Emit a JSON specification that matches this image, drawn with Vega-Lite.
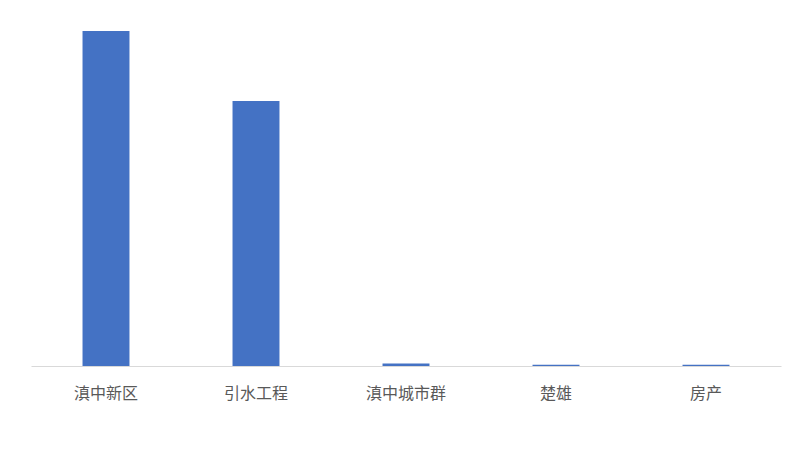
{
  "$schema": "https://vega.github.io/schema/vega-lite/v6.json",
  "autosize": {"type": "none"},
  "padding": {"left": 31, "top": 31, "right": 11, "bottom": 99},
  "width": 750,
  "height": 335,
  "background": "white",
  "config": {"view": {"stroke": null}},
  "data": {
    "values": [
      {"name": "滇中新区", "value": 335},
      {"name": "引水工程", "value": 265},
      {"name": "滇中城市群", "value": 2.5},
      {"name": "楚雄", "value": 1.2},
      {"name": "房产", "value": 1.2}
    ]
  },
  "mark": {"type": "bar", "color": "#4472C4"},
  "encoding": {
    "x": {
      "field": "name",
      "type": "nominal",
      "sort": null,
      "scale": {"paddingInner": 0.687, "paddingOuter": 0.3435},
      "axis": {
        "title": null,
        "labelAngle": 0,
        "ticks": false,
        "domainColor": "#d9d9d9",
        "domainWidth": 1,
        "labelColor": "#595959",
        "labelFont": "Noto Sans CJK SC",
        "labelFontSize": 16,
        "labelPadding": 19
      }
    },
    "y": {
      "field": "value",
      "type": "quantitative",
      "scale": {"domain": [0, 335], "nice": false},
      "axis": null
    }
  }
}
